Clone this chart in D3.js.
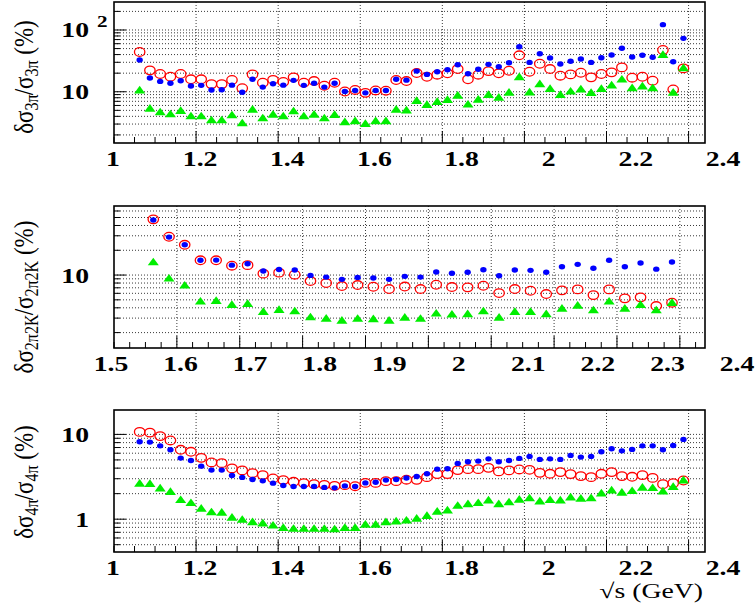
<!DOCTYPE html>
<html>
<head>
<meta charset="utf-8">
<script src="https://cdn.jsdelivr.net/npm/d3@7"></script>
<style>
  html, body { margin: 0; padding: 0; background: #fff; }
  svg { display: block; }
</style>
</head>
<body>
<svg id="fig" width="756" height="614"></svg>
<script>
// Centre-of-mass energies (GeV)
const energy3pi = [1.0625, 1.0875, 1.1125, 1.1375, 1.1625, 1.1875, 1.2125, 1.2375, 1.2625, 1.2875,
  1.3125, 1.3375, 1.3625, 1.3875, 1.4125, 1.4375, 1.4625, 1.4875, 1.5125, 1.5375,
  1.5625, 1.5875, 1.6125, 1.6375, 1.6625, 1.6875, 1.7125, 1.7375, 1.7625, 1.7875,
  1.8125, 1.8375, 1.8625, 1.8875, 1.9125, 1.9375, 1.9625, 1.9875, 2.0125, 2.0375,
  2.0625, 2.0875, 2.1125, 2.1375, 2.1625, 2.1875, 2.2125, 2.2375, 2.2625, 2.2875,
  2.3125, 2.3375, 2.3625, 2.3875];
const energy4pi = energy3pi;
const energy2pi2K = [1.5625, 1.5875, 1.6125, 1.6375, 1.6625, 1.6875, 1.7125, 1.7375, 1.7625, 1.7875,
  1.8125, 1.8375, 1.8625, 1.8875, 1.9125, 1.9375, 1.9625, 1.9875, 2.0125, 2.0375,
  2.0625, 2.0875, 2.1125, 2.1375, 2.1625, 2.1875, 2.2125, 2.2375, 2.2625, 2.2875,
  2.3125, 2.3375, 2.3625, 2.3875];

// Relative uncertainties (%) — 3pi channel
const blue3pi = [32.6, 16.7, 14.7, 13.7, 15.1, 12.4, 12.7, 10.7, 10.8, 12.8,
  9.8, 15.9, 11.9, 13.5, 12.8, 15.3, 12.7, 13.7, 11.9, 13.7,
  10.1, 10.5, 9.6, 10.5, 10.5, 15.9, 15.4, 21.6, 19.1, 21.1,
  22.7, 27.4, 19.6, 23.1, 27.8, 25.4, 29.5, 53.6, 29.9, 41.3,
  35.2, 28.1, 31.1, 33.9, 29.9, 35.6, 39.4, 50.5, 36.5, 38.9,
  36.1, 122, 30.6, 73.3];
const red3pi = [44, 22.2, 19.4, 17.5, 19.4, 15.9, 15.9, 13.3, 13.3, 15.5,
  11.4, 19.1, 14.0, 15.6, 14.4, 17.1, 14.0, 14.9, 12.5, 14.0,
  10.1, 10.7, 9.6, 10.5, 10.4, 15.5, 14.9, 20.1, 17.5, 18.9,
  19.9, 23.3, 15.9, 18.9, 21.6, 19.9, 21.9, 38.9, 21.1, 28.4,
  23.3, 18.2, 19.1, 20.3, 17.1, 19.4, 20.6, 24.8, 16.9, 17.5,
  15.1, 47.4, 10.9, 23.9];
const green3pi = [10.3, 5.24, 4.57, 4.24, 4.81, 3.93, 3.93, 3.39, 3.39, 4.08,
  3.03, 5.05, 3.65, 4.19, 3.93, 4.74, 3.93, 4.19, 3.65, 4.14,
  3.15, 3.27, 2.96, 3.27, 3.27, 5.05, 4.9, 7.0, 6.0, 6.73,
  7.26, 8.5, 6.09, 7.33, 8.74, 7.9, 9.5, 16.9, 9.6, 13.0,
  10.9, 8.74, 9.9, 10.7, 9.4, 10.9, 12.4, 15.5, 11.2, 12.0,
  11.2, 38.9, 9.5, 23.6];

// Relative uncertainties (%) — 2pi2K channel
const blue2pi2K = [46.6, 28.9, 23.3, 15.1, 15.2, 13.2, 13.7, 11.2, 11.7, 11.5,
  9.9, 9.45, 8.87, 9.37, 9.2, 8.87, 9.65, 9.45, 10.9, 10.5,
  10.8, 11.6, 9.8, 11.5, 11.4, 10.8, 12.6, 13.5, 12.1, 15.1,
  12.6, 14.0, 11.8, 14.4];
const red2pi2K = [47.5, 29.2, 23.3, 15.1, 15.1, 13.0, 13.2, 10.4, 10.7, 10.1,
  8.46, 8.0, 7.35, 7.56, 7.21, 6.76, 7.25, 6.76, 7.62, 7.15,
  7.09, 7.42, 6.04, 6.76, 6.45, 5.88, 6.52, 6.7, 5.71, 6.7,
  5.21, 5.36, 4.2, 4.61];
const green2pi2K = [14.1, 8.94, 7.35, 4.7, 4.79, 4.28, 4.4, 3.52, 3.72, 3.58,
  3.03, 2.92, 2.76, 2.9, 2.87, 2.76, 3.0, 2.9, 3.36, 3.27,
  3.3, 3.58, 3.0, 3.52, 3.52, 3.3, 3.86, 4.2, 3.68, 4.7,
  3.86, 4.28, 3.68, 4.53];

// Relative uncertainties (%) — 4pi channel
const blue4pi = [8.18, 8.11, 7.33, 6.58, 5.25, 4.93, 4.22, 3.79, 3.79, 3.28,
  3.11, 2.94, 2.83, 2.66, 2.5, 2.43, 2.43, 2.43, 2.37, 2.34,
  2.47, 2.43, 2.68, 2.73, 2.89, 2.94, 3.06, 3.19, 3.43, 3.89,
  3.93, 4.55, 4.75, 4.84, 5.15, 4.75, 4.93, 5.21, 5.5, 5.07,
  5.15, 5.07, 5.65, 5.4, 5.5, 6.23, 6.76, 6.4, 6.65, 7.33,
  7.33, 6.58, 7.41, 8.73];
const red4pi = [10.7, 10.5, 9.55, 8.49, 6.58, 6.23, 5.29, 4.67, 4.58, 3.97,
  3.76, 3.49, 3.31, 3.02, 2.89, 2.76, 2.66, 2.59, 2.54, 2.47,
  2.52, 2.45, 2.68, 2.68, 2.81, 2.81, 2.92, 2.91, 3.13, 3.4,
  3.4, 3.79, 3.89, 3.89, 4.03, 3.66, 3.76, 3.86, 3.82, 3.52,
  3.43, 3.59, 3.4, 3.22, 3.13, 3.43, 3.59, 3.22, 3.16, 3.31,
  3.07, 2.59, 2.66, 2.86];
const green4pi = [2.59, 2.57, 2.28, 2.07, 1.66, 1.53, 1.31, 1.19, 1.18, 1.03,
  0.97, 0.91, 0.88, 0.83, 0.78, 0.76, 0.76, 0.76, 0.76, 0.75,
  0.78, 0.78, 0.85, 0.85, 0.91, 0.93, 0.95, 1.0, 1.08, 1.21,
  1.25, 1.42, 1.48, 1.53, 1.64, 1.48, 1.56, 1.68, 1.74, 1.6,
  1.66, 1.64, 1.78, 1.72, 1.75, 1.99, 2.16, 2.03, 2.12, 2.32,
  2.3, 2.1, 2.37, 2.83];

// Axis tick labels
const xLabels3pi = ["1", "1.2", "1.4", "1.6", "1.8", "2", "2.2", "2.4"];
const xLabels2pi2K = ["1.5", "1.6", "1.7", "1.8", "1.9", "2", "2.1", "2.2", "2.3", "2.4"];
const yLabels3pi = [10, 100];
const yLabels2pi2K = [10];
const yLabels4pi = [1, 10];

// ---------------------------------------------------------------
const svg = d3.select("#fig");
const BLUE = "#0000ff", RED = "#ff0000", GREEN = "#00ee00";
const SERIF = "'Liberation Serif', 'DejaVu Serif', serif";
const STRETCH = 1.32;   // horizontal widening of glyphs

const left = 114, right = 705;

function panel(cfg) {
  const g = svg.append("g");
  const x = d3.scaleLinear().domain(cfg.xDomain).range([left, right]);
  const y = d3.scaleLog().domain(cfg.yDomain).range([cfg.bottom, cfg.top]);
  // label placement scale for the x tick numbers
  const xl = d3.scaleLinear().domain(cfg.labelDomain).range(cfg.labelRange);

  // dotted grid
  const majors = cfg.xLabels.map(Number).filter(v => v > cfg.xDomain[0] && v < cfg.xDomain[1]);
  g.append("g").selectAll("line").data(majors).join("line")
    .attr("x1", d => x(d)).attr("x2", d => x(d))
    .attr("y1", cfg.top).attr("y2", cfg.bottom)
    .attr("stroke", "#222").attr("stroke-width", 0.9).attr("stroke-dasharray", "1,2");
  const yt = y.ticks().filter(v => y(v) > cfg.top + 0.5 && y(v) < cfg.bottom - 0.5);
  g.append("g").selectAll("line").data(yt).join("line")
    .attr("x1", left).attr("x2", right)
    .attr("y1", d => y(d)).attr("y2", d => y(d))
    .attr("stroke", "#222").attr("stroke-width", 0.9).attr("stroke-dasharray", "1,2");

  // x tick marks (inside, from bottom)
  const minor = d3.range(cfg.xDomain[0], cfg.xDomain[1] + 1e-9, cfg.minorStep);
  g.append("g").selectAll("line").data(minor).join("line")
    .attr("x1", d => x(d)).attr("x2", d => x(d))
    .attr("y1", cfg.bottom)
    .attr("y2", d => {
      const isMajor = majors.some(m => Math.abs(m - d) < 1e-6);
      return cfg.bottom - (isMajor ? 12 : 6);
    })
    .attr("stroke", "#000").attr("stroke-width", 1);

  // y tick marks (inside, from left)
  g.append("g").selectAll("line").data(yt).join("line")
    .attr("x1", left).attr("x2", d => left + (Math.abs(Math.log10(d) - Math.round(Math.log10(d))) < 1e-9 ? 12 : 6))
    .attr("y1", d => y(d)).attr("y2", d => y(d))
    .attr("stroke", "#000").attr("stroke-width", 1);

  // frame
  g.append("rect").attr("x", left).attr("y", cfg.top)
    .attr("width", right - left).attr("height", cfg.bottom - cfg.top)
    .attr("fill", "none").attr("stroke", "#000").attr("stroke-width", 1.6);

  // markers
  const pts = (vals) => vals.map((v, i) => ({ e: cfg.energy[i], v }));
  g.append("g").selectAll("ellipse").data(pts(cfg.red)).join("ellipse")
    .attr("cx", d => x(d.e)).attr("cy", d => y(d.v))
    .attr("rx", 5.2).attr("ry", 4.3)
    .attr("fill", "none").attr("stroke", RED).attr("stroke-width", 1.3);
  g.append("g").selectAll("ellipse").data(pts(cfg.blue)).join("ellipse")
    .attr("cx", d => x(d.e)).attr("cy", d => y(d.v))
    .attr("rx", 3.2).attr("ry", 2.7)
    .attr("fill", BLUE);
  const tri = d3.symbol().type(d3.symbolTriangle).size(34);
  g.append("g").selectAll("path").data(pts(cfg.green)).join("path")
    .attr("d", tri)
    .attr("transform", d => `translate(${x(d.e)},${y(d.v)}) scale(1.25,1)`)
    .attr("fill", GREEN);

  // x tick labels
  g.append("g").selectAll("text").data(cfg.xLabels).join("text")
    .attr("transform", d => `translate(${xl(+d)},${cfg.bottom + 23}) scale(${STRETCH},1)`)
    .attr("text-anchor", "middle")
    .attr("font-family", SERIF).attr("font-weight", "bold").attr("font-size", 21)
    .attr("fill", "#000").text(d => d);

  // y tick labels
  cfg.yLabels.forEach(v => {
    const t = g.append("text")
      .attr("transform", `translate(89,${y(v) + 7.5}) scale(${STRETCH},1)`)
      .attr("text-anchor", "end")
      .attr("font-family", SERIF).attr("font-weight", "bold").attr("font-size", 21)
      .attr("fill", "#000");
    if (v === 100) {
      t.text("10");
      g.append("text")
        .attr("transform", `translate(97,${y(v) - 3}) scale(${STRETCH},1)`)
        .attr("font-family", SERIF).attr("font-weight", "bold").attr("font-size", 16)
        .attr("fill", "#000").text("2");
    } else {
      t.text(String(v));
    }
  });

  // y axis title (rotated)
  const title = g.append("text")
    .attr("transform", `translate(33,${cfg.titleY}) scale(1.15,1) rotate(-90)`)
    .attr("text-anchor", "middle")
    .attr("font-family", SERIF).attr("font-size", cfg.titleSize).attr("fill", "#000");
  title.append("tspan").text("δσ");
  title.append("tspan").attr("baseline-shift", "-30%").attr("font-size", "70%").text(cfg.sub);
  title.append("tspan").attr("dx", -1).text("/σ");
  title.append("tspan").attr("baseline-shift", "-30%").attr("font-size", "70%").text(cfg.sub);
  title.append("tspan").text(" (%)");
}

panel({
  top: 2, bottom: 143, xDomain: [1, 2.44], yDomain: [1.48, 284], minorStep: 0.05,
  labelDomain: [1, 2.4], labelRange: [113, 723],
  xLabels: xLabels3pi, yLabels: yLabels3pi,
  energy: energy3pi, blue: blue3pi, red: red3pi, green: green3pi,
  sub: "3π", titleY: 77, titleSize: 23
});
panel({
  top: 206, bottom: 348, xDomain: [1.5, 2.44], yDomain: [1.3, 69], minorStep: 0.025,
  labelDomain: [1.5, 2.4], labelRange: [111, 737],
  xLabels: xLabels2pi2K, yLabels: yLabels2pi2K,
  energy: energy2pi2K, blue: blue2pi2K, red: red2pi2K, green: green2pi2K,
  sub: "2π2K", titleY: 297, titleSize: 23
});
panel({
  top: 410, bottom: 552, xDomain: [1, 2.44], yDomain: [0.41, 19.4], minorStep: 0.05,
  labelDomain: [1, 2.4], labelRange: [113, 723],
  xLabels: xLabels3pi, yLabels: yLabels4pi,
  energy: energy4pi, blue: blue4pi, red: red4pi, green: green4pi,
  sub: "4π", titleY: 482, titleSize: 23
});

// x axis title
svg.append("text")
  .attr("transform", `translate(703,598) scale(${STRETCH},1)`)
  .attr("text-anchor", "end")
  .attr("font-family", SERIF).attr("font-size", 21).attr("fill", "#000")
  .text("√s (GeV)");
</script>
</body>
</html>
